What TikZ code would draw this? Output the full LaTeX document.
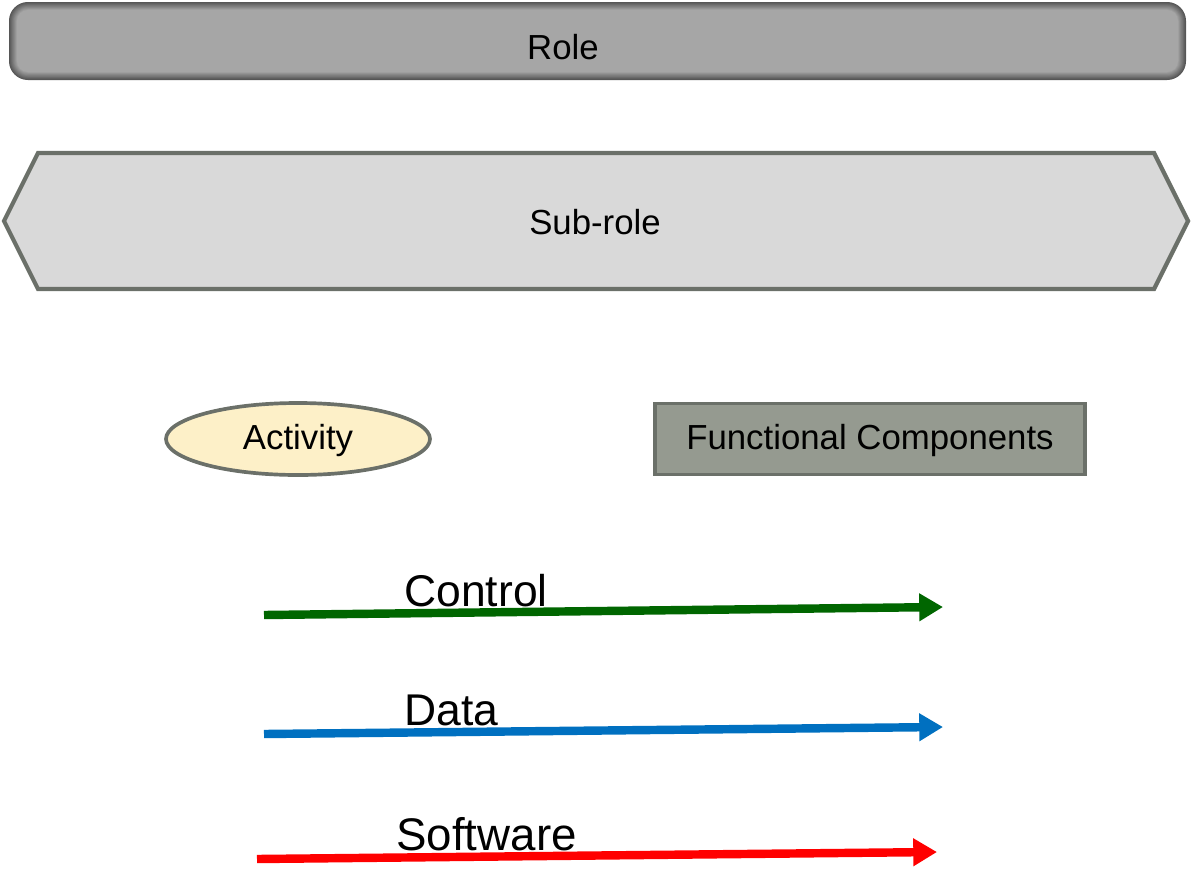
\documentclass[tikz,border=0pt]{standalone}
\usepackage{fontspec}
\setmainfont{Liberation Sans}
\usetikzlibrary{arrows.meta,shapes.geometric,calc}

\definecolor{roleedge}{HTML}{555555}
\definecolor{rolefill}{HTML}{A6A6A6}
\definecolor{shapeborder}{HTML}{6B7069}
\definecolor{subfill}{HTML}{D9D9D9}
\definecolor{actfill}{HTML}{FDF0C8}
\definecolor{fcfill}{HTML}{959A90}
\definecolor{ctrlgreen}{HTML}{006600}
\definecolor{datablue}{HTML}{0070C0}
\definecolor{swred}{HTML}{FF0000}

\tikzset{
  boxtext/.style={font=\fontsize{19.8}{22}\selectfont, text=black, inner sep=0pt},
  flowtext/.style={font=\fontsize{25.3}{28}\selectfont, text=black, inner sep=0pt, anchor=base west},
  flowline/.style={line width=4.8pt, -{Triangle[length=13.5pt,width=15pt]}},
  activity/.style={ellipse, draw=shapeborder, line width=2.1pt, fill=actfill,
    minimum width=264*0.02cm, minimum height=72*0.02cm, inner sep=0pt},
  component/.style={rectangle, draw=shapeborder, line width=2.1pt, fill=fcfill,
    minimum width=430*0.02cm, minimum height=71*0.02cm, inner sep=0pt},
}

\begin{document}
\begin{tikzpicture}[x=0.02cm, y=-0.02cm]
\useasboundingbox (0,0) rectangle (1192,872);

% Role bar: rounded box with darker rim
\foreach \i in {0,...,10}{
  \pgfmathsetmacro\p{\i*10}
  \pgfmathsetmacro\r{(19-0.8*\i)*0.5669}
  \fill[rolefill!\p!roleedge, rounded corners=\r pt]
    (9+0.8*\i, 2+0.8*\i) rectangle (1186-0.8*\i, 80-0.8*\i);
}
\node[boxtext] (role) at (563,47) {Role};

% Sub-role band
\draw[shapeborder, fill=subfill, line width=2.4pt, line join=miter]
  (4,221) -- (38,153) -- (1154,153) -- (1188,221) -- (1154,289) -- (38,289) -- cycle;
\node[boxtext] (subrole) at (595,222) {Sub-role};

% Legend shapes
\node[activity] (activity) at (298,439) {};
\node[boxtext] (activitytext) at (298,440) {Activity};
\node[component] (components) at (870,439) {};
\node[boxtext] (componentstext) at (870,440) {Functional Components};

% Connector kinds
\coordinate (ctrlA) at (264,615);
\coordinate (ctrlB) at (943,607);
\draw[flowline, ctrlgreen] (ctrlA) -- (ctrlB);
\node[flowtext] (ctrltext) at (404,606) {Control};

\coordinate (dataA) at (264,734);
\coordinate (dataB) at (943,727);
\draw[flowline, datablue] (dataA) -- (dataB);
\node[flowtext] (datatext) at (404,725) {Data};

\coordinate (swA) at (257,859);
\coordinate (swB) at (937,852);
\draw[flowline, swred] (swA) -- (swB);
\node[flowtext, font=\fontsize{26}{28}\selectfont] (swtext) at (396,850) {Software};
\end{tikzpicture}
\end{document}
